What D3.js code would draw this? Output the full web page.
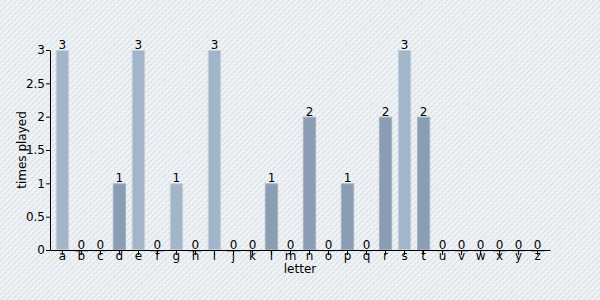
<!DOCTYPE html>
<html>
<head>
<meta charset="utf-8">
<script src="https://cdn.jsdelivr.net/npm/d3@7"></script>
<style>
  body { margin: 0; }
  svg { display: block; font-family: "DejaVu Sans", Verdana, sans-serif; }
</style>
</head>
<body>
<svg id="chart"></svg>
<script>
const letters = ['a','b','c','d','e','f','g','h','i','j','k','l','m','n','o','p','q','r','s','t','u','v','w','x','y','z'];
const timesPlayed = [3,0,0,1,3,0,1,0,3,0,0,1,0,2,0,1,0,2,3,2,0,0,0,0,0,0];
const yTicks = [0, 0.5, 1, 1.5, 2, 2.5, 3];

const width = 600, height = 300;
const margin = { top: 50, right: 50, bottom: 50, left: 50 };
const fontFamily = '"DejaVu Sans", Verdana, sans-serif';

const svg = d3.select('#chart').attr('width', width).attr('height', height);

// striped background
const defs = svg.append('defs');
const pat = defs.append('pattern')
  .attr('id', 'stripes')
  .attr('width', 4).attr('height', 4)
  .attr('patternUnits', 'userSpaceOnUse')
  .attr('patternTransform', 'rotate(45)');
pat.append('rect').attr('width', 4).attr('height', 4).attr('fill', '#eff2f5');
pat.append('line')
  .attr('x1', 0.5).attr('y1', 0).attr('x2', 0.5).attr('y2', 4)
  .attr('stroke', '#c3ccd6').attr('stroke-width', 1)
  .attr('stroke-dasharray', '1,1');

svg.append('rect').attr('width', width).attr('height', height).attr('fill', 'url(#stripes)');

const x = d3.scaleBand()
  .domain(letters)
  .range([margin.left, width - margin.right])
  .padding(0.3);

const y = d3.scaleLinear()
  .domain([0, 3])
  .range([height - margin.bottom, margin.top]);

const data = letters.map((l, i) => ({ letter: l, value: timesPlayed[i], i }));

const fills = ['#a3b6c9', '#8a9db3'];
const strokes = ['#c2cfdc', '#a3b3c5'];

svg.append('g').selectAll('rect')
  .data(data)
  .join('rect')
  .attr('x', d => x(d.letter) + 0.5)
  .attr('y', d => y(d.value) + 0.5)
  .attr('width', x.bandwidth() - 1)
  .attr('height', d => Math.max(1, y(0) - y(d.value) - 1))
  .attr('fill', d => fills[d.i % 2])
  .attr('stroke', d => strokes[d.i % 2])
  .attr('stroke-width', 1);

svg.append('g').selectAll('text')
  .data(data)
  .join('text')
  .attr('x', d => x(d.letter) + x.bandwidth() / 2)
  .attr('y', d => y(d.value) - 1)
  .attr('text-anchor', 'middle')
  .attr('font-size', 12)
  .attr('font-family', fontFamily)
  .attr('fill', '#000')
  .text(d => d.value);

const xAxis = svg.append('g')
  .attr('transform', `translate(0,${height - margin.bottom})`)
  .call(d3.axisBottom(x).tickSize(5).tickSizeOuter(0));

const yAxis = svg.append('g')
  .attr('transform', `translate(${margin.left},0)`)
  .call(d3.axisLeft(y).tickValues(yTicks).tickFormat(d => d).tickSize(4).tickPadding(1).tickSizeOuter(0));

[xAxis, yAxis].forEach(a => {
  a.selectAll('text').attr('font-size', 12).attr('font-family', fontFamily).attr('fill', '#000');
  a.selectAll('line, path').attr('stroke', '#000');
});
xAxis.selectAll('.tick text').attr('y', 1);

svg.append('text')
  .attr('x', (margin.left + width - margin.right) / 2)
  .attr('y', 273)
  .attr('text-anchor', 'middle')
  .attr('font-size', 12)
  .attr('font-family', fontFamily)
  .text('letter');

svg.append('text')
  .attr('transform', `translate(26,${(margin.top + height - margin.bottom) / 2}) rotate(-90)`)
  .attr('text-anchor', 'middle')
  .attr('font-size', 12)
  .attr('font-family', fontFamily)
  .text('times played');
</script>
</body>
</html>
